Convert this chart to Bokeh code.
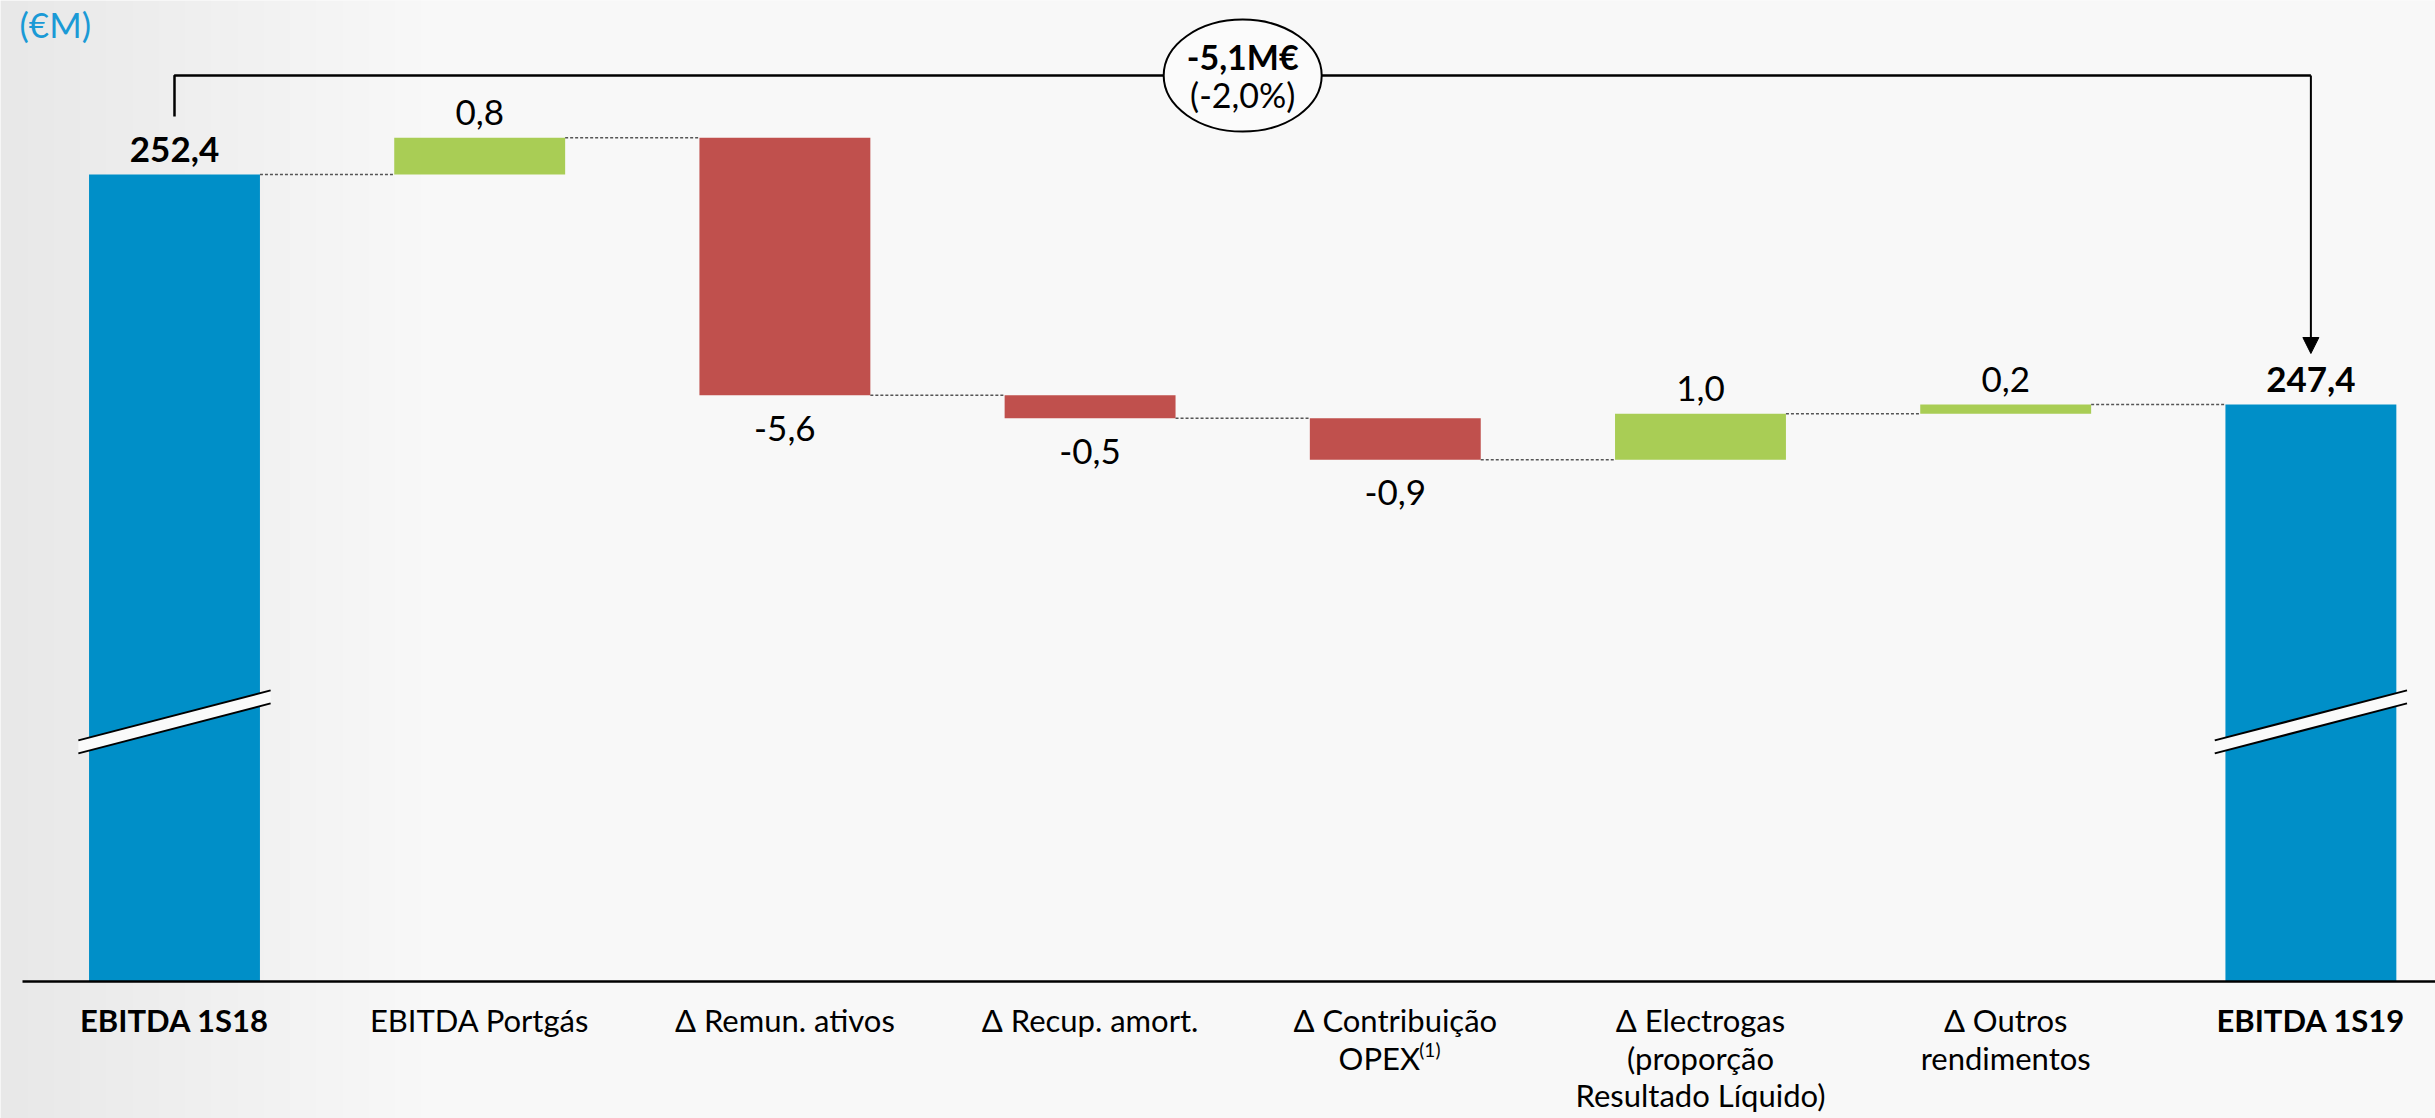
import numpy as np
from bokeh.plotting import figure
from bokeh.models import Range1d, Arrow, NormalHead, Label
from bokeh.core.properties import value
from bokeh.embed import file_html
from bokeh.resources import INLINE

# --- data -------------------------------------------------------------
categories = [
    "EBITDA 1S18",
    "EBITDA Portgás",
    "Δ Remun. ativos",
    "Δ Recup. amort.",
    "Δ Contribuição\nOPEX",
    "Δ Electrogas\n(proporção\nResultado Líquido)",
    "Δ Outros\nrendimentos",
    "EBITDA 1S19",
]
footnotes = ["", "", "", "", "(1)", "", "", ""]
start_total = 252.4
deltas = [0.8, -5.6, -0.5, -0.9, 1.0, 0.2]
end_total = 247.4
change_abs = "-5,1M€"
change_pct = "(-2,0%)"
unit_label = "(€M)"

# --- style ------------------------------------------------------------
W, H = 2435, 1118
BG = "#f7f7f7"
BLUE = "#008fc8"
GREEN = "#a9cd55"
RED = "#c0504d"
FONT = "Lato"
BAR_W = 0.56
X0, X1 = -0.5701, 7.4083
Y0, Y1 = 231.878, 256.183          # visible value window (axis is broken)
AXIS_BASE = 234.857                # where the cut axis is drawn
PX = H / (Y1 - Y0)                 # pixels per value unit

def fmt(v):
    return f"{v:.1f}".replace(".", ",")

# --- waterfall geometry -------------------------------------------------
levels = start_total + np.cumsum(deltas)
prev = np.concatenate([[start_total], levels[:-1]])

n = len(categories)
xs = np.arange(n)
bottoms = [AXIS_BASE] + list(np.minimum(prev, levels)) + [AXIS_BASE]
tops = [start_total] + list(np.maximum(prev, levels)) + [end_total]
colors = [BLUE] + [GREEN if d > 0 else RED for d in deltas] + [BLUE]

p = figure(width=W, height=H, x_range=Range1d(X0, X1),
           y_range=Range1d(Y0, Y1), output_backend="svg",
           toolbar_location=None, min_border=0,
           x_axis_location=None, y_axis_location=None,
           background_fill_color=BG, border_fill_color=BG,
           outline_line_color=None)
p.grid.visible = False

# soft grey slide backdrop, darker toward the left edge
cols = np.arange(W)
shade = np.clip(cols / 420.0, 0, 1)
grey = (232 + (248 - 232) * shade).astype(np.uint32)
row = (255 << 24) | (grey << 16) | (grey << 8) | grey
img = np.tile(row, (2, 1)).astype(np.uint32)
p.image_rgba(image=[img], x=X0, y=Y0, dw=X1 - X0, dh=Y1 - Y0)

p.vbar(x=xs, width=BAR_W, bottom=bottoms, top=tops,
       fill_color=colors, line_color=None)

# dashed connectors between consecutive bars
conn_levels = [start_total] + list(levels)
p.segment(x0=xs[:-1] + BAR_W / 2, x1=xs[1:] - BAR_W / 2,
          y0=conn_levels, y1=conn_levels,
          line_color="#555555", line_width=1.5, line_dash="3 2")

# category axis line
p.segment(x0=[-0.498], x1=[7.5], y0=[AXIS_BASE], y1=[AXIS_BASE],
          line_color="black", line_width=2.5)

# axis-break marks on the two total bars
mid = 240.5
rise = 25 / PX
gap = 6.5 / PX
hx = 0.315
for cx in (xs[0], xs[-1]):
    up = (mid + gap - rise, mid + gap + rise)
    lo = (mid - gap - rise, mid - gap + rise)
    p.patch([cx - hx, cx + hx, cx + hx, cx - hx],
            [up[0], up[1], lo[1], lo[0]],
            fill_color="#fafafa", line_color=None)
    p.segment(x0=[cx - hx, cx - hx], x1=[cx + hx, cx + hx],
              y0=[up[0], lo[0]], y1=[up[1], lo[1]],
              line_color="black", line_width=2)

# value labels
pos_x, pos_y, pos_t, pos_s = [], [], [], []
neg_x, neg_y, neg_t = [], [], []
for i, (val, top, bot) in enumerate(zip([start_total] + deltas + [end_total], tops, bottoms)):
    is_total = i in (0, n - 1)
    if is_total or val > 0:
        pos_x.append(i); pos_y.append(top); pos_t.append(fmt(val))
        pos_s.append("bold" if is_total else "normal")
    else:
        neg_x.append(i); neg_y.append(bot); neg_t.append(fmt(val))

p.text(x=pos_x, y=pos_y, text=pos_t, text_font=value(FONT),
       text_font_style=pos_s, text_font_size="35px", text_align="center",
       text_baseline="middle", y_offset=-25, text_color="black")
p.text(x=neg_x, y=neg_y, text=neg_t, text_font=value(FONT),
       text_font_size="35px", text_align="center",
       text_baseline="middle", y_offset=33, text_color="black")

# category labels, one glyph row per line
lx, lt, ly_off, lx_off, lstyle = [], [], [], [], []
fx, ft, fy_off, fx_off = [], [], [], []
for i, (cat, note) in enumerate(zip(categories, footnotes)):
    lines = cat.split("\n")
    for j, line in enumerate(lines):
        last = j == len(lines) - 1
        lx.append(i); lt.append(line)
        ly_off.append(39 + 37.5 * j)
        lx_off.append(-16 if (note and last) else 0)
        lstyle.append("bold" if i in (0, n - 1) else "normal")
        if note and last:
            fx.append(i); ft.append(note)
            fy_off.append(39 + 37.5 * j - 8); fx_off.append(24)

p.text(x=lx, y=[AXIS_BASE] * len(lx), text=lt, x_offset=lx_off, y_offset=ly_off,
       text_font=value(FONT), text_font_style=lstyle, text_font_size="31px",
       text_align="center", text_baseline="middle", text_color="black")
p.text(x=fx, y=[AXIS_BASE] * len(fx), text=ft, x_offset=fx_off, y_offset=fy_off,
       text_font=value(FONT), text_font_size="19px",
       text_align="left", text_baseline="middle", text_color="black")

# overall change bracket
br_y = 254.55
p.line(x=[xs[0], xs[0], xs[-1]], y=[start_total + 58 / PX, br_y, br_y],
       line_color="black", line_width=2.5)
p.add_layout(Arrow(x_start=xs[-1], y_start=br_y, x_end=xs[-1],
                   y_end=end_total + 51 / PX, line_color="black", line_width=2,
                   end=NormalHead(size=16, fill_color="black", line_color="black")))
p.ellipse(x=[(xs[0] + xs[-1]) / 2], y=[br_y], width=158, height=112,
          width_units="screen", height_units="screen",
          fill_color="#fbfbfb", line_color="black", line_width=2)
p.text(x=[(xs[0] + xs[-1]) / 2] * 2, y=[br_y, br_y], text=[change_abs, change_pct],
       y_offset=[-19, 19], text_font_style=["bold", "normal"],
       text_font=value(FONT), text_font_size="34px", text_align="center",
       text_baseline="middle", text_color="black")

p.add_layout(Label(x=19, y=H - 23, x_units="screen", y_units="screen",
                   text=unit_label, text_font=FONT, text_font_size="35px",
                   text_color="#1a9ad6", text_baseline="middle"))

open("out.html", "w").write(file_html(p, INLINE))
